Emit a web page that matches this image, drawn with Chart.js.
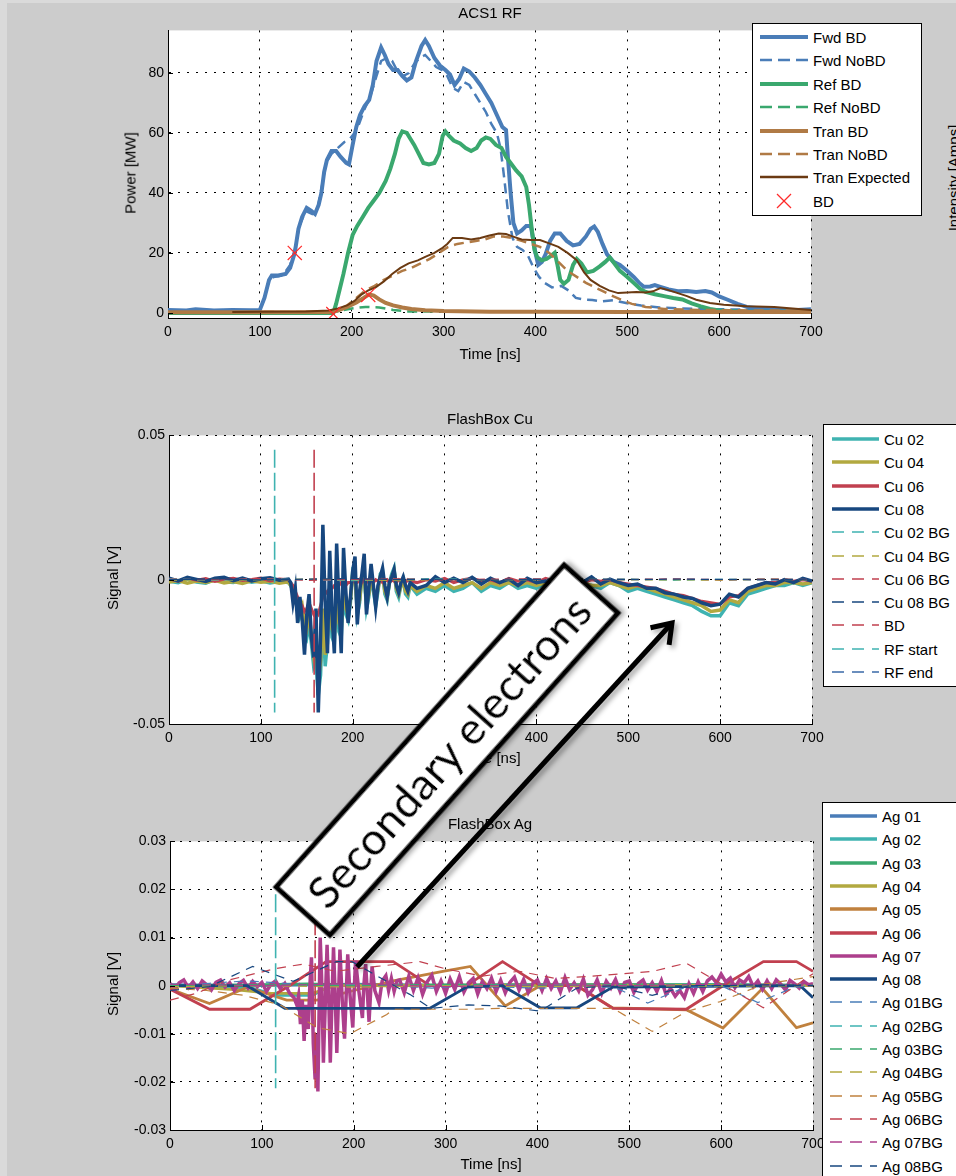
<!DOCTYPE html>
<html>
<head>
<meta charset="utf-8">
<title>ACS1 RF / FlashBox</title>
<script src="https://cdn.jsdelivr.net/npm/chart.js@4.4.1/dist/chart.umd.min.js"></script>
<style>
  html, body { margin: 0; padding: 0; }
  body { width: 956px; height: 1176px; background: #cccccc; position: relative; overflow: hidden;
         font-family: "Liberation Sans", Arial, sans-serif; color: #000; }
  canvas { position: absolute; }
  .edge-l { position: absolute; left: 0; top: 0; width: 7px; height: 1176px; background: #dadada; }
  .edge-t { position: absolute; left: 0; top: 0; width: 956px; height: 3px; background: #dadada; }
  .txt { position: absolute; font-size: 15px; white-space: nowrap; transform: translate(-50%, -50%); }
  .vtxt { position: absolute; font-size: 15px; white-space: nowrap; transform: translate(-50%, -50%) rotate(-90deg); }
  .legend { position: absolute; background: #fff; border: 1px solid #000; box-sizing: border-box; }
  .lg-item { position: absolute; font-size: 15px; white-space: nowrap; transform: translateY(-50%); }
  .lg-line { position: absolute; }
  #anno { position: absolute; left: 0; top: 0; }
</style>
</head>
<body>
<div class="edge-l"></div>
<div class="edge-t"></div>
<canvas id="rf-chart"></canvas>
<canvas id="cu-chart"></canvas>
<canvas id="ag-chart"></canvas>

<div class="txt" style="left:490px; top:12px;">ACS1 RF</div>
<div class="txt" style="left:490px; top:353px;">Time [ns]</div>
<div class="vtxt" style="left:130px; top:173px;">Power [MW]</div>
<div class="vtxt" style="left:953px; top:178px;">Intensity [Amps]</div>

<div class="txt" style="left:490px; top:418px;">FlashBox Cu</div>
<div class="txt" style="left:490px; top:757px;">Time [ns]</div>
<div class="vtxt" style="left:112px; top:578px;">Signal [V]</div>

<div class="txt" style="left:490px; top:823px;">FlashBox Ag</div>
<div class="txt" style="left:491px; top:1163px;">Time [ns]</div>
<div class="vtxt" style="left:112px; top:984px;">Signal [V]</div>

<script>
'use strict';
// ---------- common axis ticks
var timeTicks = [0, 100, 200, 300, 400, 500, 600, 700];
var rfTicks = [0, 20, 40, 60, 80];
var rfTickLabels = ['0', '20', '40', '60', '80'];
var cuTicks = [-0.05, 0, 0.05];
var cuTickLabels = ['-0.05', '0', '0.05'];
var agTicks = [-0.03, -0.02, -0.01, 0, 0.01, 0.02, 0.03];
var agTickLabels = ['-0.03', '-0.02', '-0.01', '0', '0.01', '0.02', '0.03'];

// ---------- ACS1 RF (time ns, power MW)
var rfLabels = ['Fwd BD', 'Fwd NoBD', 'Ref BD', 'Ref NoBD', 'Tran BD', 'Tran NoBD', 'Tran Expected', 'BD'];

var fwdBdT = [0,20,30,50,70,90,100,105,110,113, 120,128,133,138,142,146,151,156,160,164,
  167,170,173,178,183,188,194,197,201,205, 209,214,219,223,227,232,236,240,245,250,
  255,260,265,270,276,280,284,290,296,302, 307,312,317,322,328,334,340,346,352,358,
  364,368,370,373,376,380,385,390,395,400, 403,407,411,416,421,427,434,441,448,455,
  460,464,468,473,478,485,492,500,507,513, 518,525,530,536,545,555,565,575,585,592,
  600,610,620,630,645,660,680,700];
var fwdBdP = [1,0.8,1.2,0.8,1,0.9,1,5,11,12.5, 12.5,13,15,20,28,32,35,34,33,36,
  40,47,51,54,54,52,50,49.5,56,62, 66,69,71,76,84,88.5,86,83,81,81,
  79,77.5,78.5,84,89,91,89,85,82.5,81, 79.5,76,78,81.5,80.5,78.5,76,73,70,66,
  62,61,52,40,30,26.5,27.5,29,29,20, 16,17,19.5,24,26.5,26.5,24,22.5,23,25.5,
  28,28.8,27,23,19.5,17,16,14,12,10, 8.7,8.8,9.3,8.7,7.8,7.2,7.3,7,7.3,6.8,
  5.5,4.3,3,2,1.5,1.1,0.9,1.2];

var fwdNoT = [0,100,105,110,115,125,133,138,143,150, 157,163,168,172,178,185,192,198,203,208,
  214,220,226,232,238,244,250,256,262,268, 274,280,286,292,298,304,310,316,322,328,
  334,340,346,352,358,362,366,370,375,380, 386,392,398,404,410,418,428,436,444,452,
  462,472,485,500,515,535,560,600,650,700];
var fwdNoP = [0.8,0.8,5,11,12,12.5,16,21,29,34, 33,35,43,50,53,55,57,58,60,63,
  68,72,78,84,85,84,80.5,79,80,83, 85,86,84,82,81,79,75,74,77,76,
  73,70,67,63,60,55,45,34,25,22, 21,19,15,12,10,8.5,9,7.5,5,4.5,
  4.3,3.8,4.2,3.2,2.5,1.8,1.5,1.2,1,1];

var refBdT = [0,180,183,187,191,196,201,206,212,218, 224,230,237,242,247,251,255,260,264,268,
  273,278,284,290,295,299,302,306,311,318, 324,330,336,341,346,351,357,363,368,373,
  379,385,390,393,396,399,402,407,412,417, 421,424,427,431,436,441,445,450,456,463,
  470,476,481,486,492,500,507,514,520,530, 540,550,560,570,580,590,600,620,650,700];
var refBdP = [0,0,3,8,13,20,26,29,32,35, 37.5,40,44,48,53,58,60.5,60,58,56,
  53,50,49.5,50,53,59,60.5,59,57.5,56.5, 55,54,55,57.5,58.5,58,56,55,52,50,
  47.5,45.5,42,36,28,21,18.5,17.5,18,19, 20,16,11,9.7,11,16,18,16.5,13.5,14,
  15.5,17,18.5,16.5,14,12,10,8,7,6.2, 5.6,5,4.5,3.2,2.2,1.3,0.8,0.5,0.4,0.4];

var refNoT = [0,60,100,180,200,215,230,245,260,300,400,500,600,700];
var refNoP = [0,-0.3,0,0.2,1.5,2,1.8,1,0.5,0.5,0.4,0.4,0.3,0.3];

var tranBdT = [0,100,175,185,195,205,213,219,224,230,237,245,255,265,280,300,350,400,500,600,700];
var tranBdP = [0.2,0.2,0.3,0.8,2,3.5,5,6.2,5.8,4.5,3.3,2.5,1.8,1.3,0.9,0.6,0.4,0.4,0.3,0.3,0.3];

var tranNoT = [0,175,185,195,205,215,225,235,245,255, 265,275,285,295,305,315,325,335,345,355,
  365,375,385,395,405,415,425,435,445,455, 465,475,485,495,505,520,540,580,640,700];
var tranNoP = [0.2,0.3,1,2.5,5,7.5,9,11,12.5,14, 15,16.5,18,20,22,23,23.5,24,24.5,25.5,
  25.5,25,24,23,22,20,17,14,12,10, 8.5,7,5.5,4.2,3,2,1.3,1,0.8,0.8];

var tranExpT = [70,100,150,175,185,195,203,210,218,226, 235,244,253,262,272,280,290,298,304,310,
  320,330,340,350,360,368,375,385,395,405, 415,425,435,445,453,460,470,480,490,500,
  510,520,528,536,545,555,565,575,590,605, 630,660,700];
var tranExpP = [0.3,0.4,0.5,0.8,1.5,2.5,4,6,7.5,8.5, 10.5,13,15,16.5,17.5,18.7,20,21.5,23,25,
  25,24.5,25,25.8,26.5,26.3,25.5,24.5,24.3,24.3, 23.2,22,20,17.6,13.5,11,9,7.5,6.6,6.8,
  7,6.8,7.2,8.3,7.6,6.6,5.6,4.4,3.3,2.7, 2.2,2,1];

var bdT = [138, 180, 218];
var bdP = [20, -0.4, 6];

// ---------- FlashBox Cu (time ns, signal V)
var cuLabels = ['Cu 02', 'Cu 04', 'Cu 06', 'Cu 08', 'Cu 02 BG', 'Cu 04 BG', 'Cu 06 BG', 'Cu 08 BG', 'BD', 'RF start', 'RF end'];
var cuT = [0,10,20,30,40,50,60,70,80,90,100,110,120,130,
  132.5,135,137.5,140,142.5,145,147.5,150,152.5,155,157.5,160,162.5,165,167.5,170,172.5,175,177.5,180,
  182.5,185,187.5,190,192.5,195,197.5,200,202.5,205,207.5,210,212.5,215,217.5,220,222.5,225,227.5,230,
  232.5,235,237.5,240,242.5,245,247.5,250,252.5,255,257.5,260,262.5,
  270,280,290,300,310,320,330,340,350,360,370,380,390,400,410,420,430,440,450,460,
  470,480,490,500,510,520,530,540,550,560,570,580,590,600,610,620,630,640,650,660,670,680,690,700];
var cu02 = [-0.0005,-0.001,0.0002,-0.0008,-0.0012,0.0001,-0.0007,-0.001,0,-0.0009,-0.0004,-0.0011,-0.0006,-0.001,
  -0.002,-0.004,-0.006,-0.010,-0.013,-0.011,-0.018,-0.020,-0.015,-0.022,-0.030,-0.028,-0.040,-0.033,-0.012,-0.030,-0.022,-0.003,-0.020,-0.022,
  -0.002,-0.018,-0.020,-0.001,-0.012,-0.014,-0.008,0.003,0.002,-0.012,-0.008,0.001,0.002,-0.010,-0.006,0.001,-0.004,-0.009,-0.004,0.002,
  0.003,-0.005,-0.007,-0.001,0.002,0.004,-0.004,-0.006,-0.002,0,-0.005,-0.006,-0.002,
  -0.005,-0.003,-0.004,-0.002,-0.004,-0.003,-0.001,-0.004,-0.002,-0.003,-0.001,-0.003,-0.002,-0.003,-0.001,-0.003,-0.002,-0.003,-0.001,-0.002,
  -0.003,-0.001,-0.002,-0.004,-0.003,-0.004,-0.005,-0.006,-0.007,-0.008,-0.009,-0.011,-0.0125,-0.0125,-0.008,-0.009,-0.005,-0.004,-0.003,-0.002,-0.002,-0.001,-0.002,-0.001];
var cu04 = [-0.0008,-0.0003,-0.0012,-0.0005,-0.001,-0.0002,-0.0011,-0.0006,-0.0013,-0.0004,-0.0009,-0.0005,-0.0012,-0.0007,
  -0.002,-0.003,-0.005,-0.008,-0.011,-0.009,-0.015,-0.017,-0.012,-0.019,-0.026,-0.022,-0.035,-0.028,-0.010,-0.026,-0.019,-0.003,-0.017,-0.019,
  -0.002,-0.015,-0.017,-0.001,-0.010,-0.012,-0.007,0.002,0.001,-0.010,-0.007,0.001,0.001,-0.008,-0.005,0.001,-0.003,-0.007,-0.003,0.001,
  0.002,-0.004,-0.006,-0.001,0.001,0.003,-0.003,-0.005,-0.002,0,-0.004,-0.005,-0.002,
  -0.004,-0.002,-0.003,-0.001,-0.003,-0.002,-0.001,-0.003,-0.001,-0.002,-0.001,-0.002,-0.001,-0.002,-0.001,-0.002,-0.002,-0.002,-0.001,-0.002,
  -0.002,-0.001,-0.002,-0.003,-0.002,-0.003,-0.004,-0.005,-0.006,-0.007,-0.008,-0.009,-0.011,-0.0105,-0.007,-0.008,-0.004,-0.003,-0.002,-0.002,-0.001,-0.001,-0.0015,-0.001];
var cu06 = [0.0003,-0.0005,0.0006,-0.0002,0.0004,-0.0006,0.0002,0.0005,-0.0003,0.0001,0.0006,-0.0004,0.0002,0,
  -0.001,-0.002,-0.004,-0.006,-0.008,-0.009,-0.011,-0.010,-0.008,-0.010,-0.012,-0.011,-0.012,-0.009,-0.006,-0.005,-0.004,-0.003,-0.003,-0.002,
  -0.002,-0.002,-0.001,-0.001,-0.002,-0.001,-0.001,0,-0.001,-0.001,0,-0.001,0,-0.001,0,-0.0005,-0.001,0,-0.0005,0,
  -0.001,-0.0005,0,-0.001,0,-0.0005,-0.001,0,-0.0005,0,-0.001,0,-0.0005,
  -0.001,0,-0.0005,0.0005,-0.001,0,0.0005,-0.0005,0,-0.001,0.0005,-0.0005,0,-0.001,0.0005,-0.0005,0,0.0005,-0.001,0,
  -0.0005,0,-0.001,-0.0015,-0.002,-0.0025,-0.003,-0.004,-0.005,-0.0055,-0.0065,-0.0075,-0.008,-0.0085,-0.006,-0.0055,-0.003,-0.002,-0.001,-0.001,0,-0.0005,0,-0.0005];
var cu08 = [0.0005,-0.0004,0.0008,0.0001,-0.0006,0.0005,0.0008,-0.0003,0.0006,-0.0004,0.0003,0.0007,-0.0002,0.0002,
  -0.001,-0.008,-0.003,-0.015,-0.006,-0.014,-0.026,-0.012,-0.005,-0.020,-0.027,-0.010,-0.046,-0.020,0.019,-0.008,-0.0255,0.010,-0.012,-0.0255,
  0.0125,-0.008,-0.0255,0.011,-0.004,-0.015,-0.006,0.003,0.008,-0.0155,-0.004,0.002,0.009,-0.012,-0.003,0.0055,-0.002,-0.0095,-0.002,0.001,
  0.004,-0.002,-0.006,-0.001,0.001,0.0035,-0.002,-0.0045,-0.001,0.001,-0.002,-0.004,-0.001,
  -0.003,-0.002,0.001,-0.001,0.0005,-0.001,0.0008,-0.0015,0.0005,-0.001,0.0002,-0.002,0.0005,-0.001,-0.0005,-0.002,0.0002,0.001,-0.001,0.001,
  -0.0015,0.0002,-0.001,-0.002,-0.0015,-0.003,-0.003,-0.0045,-0.005,-0.006,-0.0065,-0.008,-0.009,-0.0085,-0.005,-0.006,-0.003,-0.002,-0.001,-0.0015,0,-0.001,0.0005,-0.0005];

var cuBgT = [0,50,100,150,200,250,300,350,400,450,500,550,600,650,700];
var cu02bg = [0.0004,-0.0002,0.0003,0,-0.0003,0.0002,0.0004,-0.0001,0.0002,0,0.0003,-0.0002,0.0001,0.0003,0];
var cu04bg = [-0.0003,0.0001,-0.0002,0.0002,0,-0.0003,0.0001,-0.0002,0,0.0002,-0.0001,0,-0.0002,0.0001,0];
var cu06bg = [0.0002,0,0.0004,-0.0002,0.0001,0.0003,-0.0001,0.0002,0.0003,0,0.0001,0.0003,0,0.0002,0.0001];
var cu08bg = [0,0.0003,-0.0001,0.0002,0.0004,0,0.0002,-0.0002,0.0001,0.0003,0,0.0002,0.0001,-0.0001,0.0002];

var bdLineT = [158, 158];
var rfStartT = [115, 115];
var cuMarkV = [0.045, -0.046];

// ---------- FlashBox Ag (time ns, signal V)
var agLabels = ['Ag 01', 'Ag 02', 'Ag 03', 'Ag 04', 'Ag 05', 'Ag 06', 'Ag 07', 'Ag 08',
  'Ag 01BG', 'Ag 02BG', 'Ag 03BG', 'Ag 04BG', 'Ag 05BG', 'Ag 06BG', 'Ag 07BG', 'Ag 08BG'];
var ag01T = [0,100,200,300,400,500,600,700];
var ag01V = [0.0002,0,0.0003,0,0.0002,0,0.0002,0];
var ag02T = [0,90,115,155,175,300,500,700];
var ag02V = [0,-0.0005,-0.002,-0.002,0,0,0.0002,0];
var ag03T = [0,100,150,200,400,600,700];
var ag03V = [0,0.0002,0.0004,0.0001,0.0002,0.0002,0.0001];
var ag04T = [0,70,110,155,180,400,700];
var ag04V = [0,-0.0008,-0.0016,-0.0016,0,0.0001,0];
var ag05T = [0,43,84,127,160,200,243,297,327,365,403,443,482,562,602,645,682,700];
var ag05V = [-0.0007,-0.0037,-0.0003,-0.003,-0.003,-0.001,0.001,0.003,0.004,-0.0042,0,0,-0.0046,-0.005,-0.0088,-0.0006,-0.0087,-0.0077];
var ag06T = [0,43,87,130,170,243,283,323,362,403,443,482,562,602,646,682,700];
var ag06V = [-0.0007,-0.0049,-0.0049,0,0.005,0.005,0,0,0.005,0,0,-0.0047,-0.0049,0,0.005,0.005,0.003];
var ag07T = [0,5,10,15,20,25,30,35,40,45,50,55,60,65,70,75,80,85,90,95,100,105,110,115,120,125,130,135,
  138,140,142,144,146,148,150.5,152,154,156,158,159.5,161,163.5,165,167,169,171,173,174.5,176.5,178,
  180,181.6,183.5,185,187.5,190,192,193.5,196,199,200.5,202,205.5,209.5,211,213,215,216.7,218.5,220,
  223,227.5,231,235,238,241,244,247,
  250,255,260,265,270,275,280,285,290,295,300,305,310,315,320,325,330,335,340,345,
  350,355,360,365,370,375,380,385,390,395,400,405,410,415,420,425,430,435,440,445,
  450,455,460,465,470,475,480,485,490,495,500,505,510,515,520,525,530,535,540,545,
  550,555,560,565,570,575,580,585,590,595,600,605,610,615,620,625,630,635,640,645,
  650,655,660,665,670,675,680,685,690,695,700];
var ag07V = [0.0005,-0.0008,0.0006,0.0012,-0.0004,0.0008,-0.0006,0.0010,0.0002,-0.0009,0.0007,0.0012,-0.0003,0.0006,
  -0.0010,0.0004,0.0011,-0.0005,0.0009,-0.0002,0.0007,-0.0012,0.0003,0.0010,-0.0006,0.0005,-0.0015,-0.0025,
  -0.0040,-0.0020,-0.0080,-0.0030,-0.0115,-0.0040,-0.0090,-0.0010,0.0059,-0.0120,-0.0195,-0.0100,-0.0220,0.0100,0.0020,-0.0160,-0.0040,0.0085,-0.0040,-0.0160,-0.0020,0.0080,
  -0.0030,-0.0140,-0.0020,0.0075,-0.0030,-0.0110,-0.0010,0.0065,-0.0020,-0.0087,-0.0010,0.0052,-0.0010,-0.0067,0.0000,0.0045,-0.0020,-0.0075,-0.0010,0.0040,
  -0.0010,-0.0035,0.0010,0.0021,-0.0010,0.0015,-0.0012,0.0010,
  0.0012,-0.0015,0.0020,-0.0010,0.0016,-0.0018,0.0008,0.0022,-0.0012,0.0010,
  -0.0016,0.0014,-0.0008,0.0019,-0.0013,0.0006,0.0015,-0.0017,0.0009,-0.0006,
  0.0016,-0.0012,0.0011,-0.0015,0.0007,0.0018,-0.0009,0.0013,-0.0014,0.0005,
  0.0012,-0.0010,0.0015,-0.0006,0.0010,-0.0013,0.0017,-0.0008,0.0006,-0.0011,
  0.0014,-0.0020,-0.0008,0.0012,-0.0016,0.0009,-0.0005,0.0013,-0.0012,0.0007,
  0.0010,-0.0014,0.0005,0.0012,-0.0009,0.0006,-0.0012,0.0011,-0.0018,-0.0006,
  -0.0022,-0.0010,-0.0025,0.0004,-0.0016,0.0008,-0.0012,0.0010,0.0018,0.0006,
  0.0024,0.0008,0.0016,-0.0004,0.0012,0.0006,0.0019,-0.0002,0.0010,-0.0008,
  0.0010,-0.0006,0.0012,0.0003,-0.0009,0.0011,0.0004,-0.0005,0.0009,0.0002,0.0004];
var ag08T = [0,84,125,283,323,362,403,443,482,686,700];
var ag08V = [0,0,-0.0047,-0.0047,-0.0003,0,-0.0046,-0.0046,-0.0003,0,-0.0025];

var ag01bgT = [0,43,84,124,165,205,245,285,325,365,405,445,485,520,560,600,640,680,700];
var ag01bgV = [0,0.0005,0.001,0.0005,0,0.0003,0,-0.0005,0,-0.0003,-0.0005,0,-0.0004,-0.0036,-0.0004,0,-0.0035,-0.0003,0];
var agFlatT = [0,100,200,300,400,500,600,700];
var ag02bgV = [0.0003,0,0.0002,0,0.0003,0,0.0002,0];
var ag03bgV = [0,0.0002,0,0.0003,0,0.0002,0,0.0001];
var ag04bgV = [-0.0002,0,-0.0003,0,-0.0002,0,-0.0001,0];
var ag05bgT = [0,40,80,120,160,196,236,243,327,359,482,525,562,599,646,700];
var ag05bgV = [-0.0005,-0.001,-0.002,-0.004,-0.0087,-0.01,-0.006,-0.0049,-0.0049,-0.0047,-0.0047,-0.0095,-0.0054,-0.0033,0.0003,0.0019];
var ag06bgT = [0,30,60,116,145,180,225,272,300,340,380,420,460,526,562,590,646,700];
var ag06bgV = [-0.003,-0.0015,0.001,0.0036,0.0045,0.003,0.004,0.005,0.0035,0.002,0.003,0.0015,0.002,0.003,0.0047,0.0015,-0.0046,0.0025];
var ag07bgV = [0.0003,0,0.0004,-0.0002,0.0002,0,0.0003,0];
var ag08bgT = [0,43,90,134,181,198,261,284,325,359,403,443,482,525,565,605,645,685,700];
var ag08bgV = [-0.001,-0.0002,0.004,0.0009,0.005,0.005,-0.0018,-0.0047,-0.004,-0.0042,-0.0053,-0.0005,0,-0.002,0,0,0.0002,0,0];
var agMarkV = [0.019, -0.0213];

// ---------- colours
var cBlue = '#4a7db8', cGreen = '#3aa86e', cTan = '#b07a45', cBrown = '#6b3a12', cRed = '#ff2a2a';
var cTeal = '#3fb3b1', cOlive = '#b2a940', cCrimson = '#c1404f', cNavy = '#17477f';
var cOrange = '#c0813e', cMagenta = '#ad3f8c';

function pts(xs, ys) {
  var out = [];
  for (var i = 0; i < xs.length; i++) out.push({ x: xs[i], y: ys[i] });
  return out;
}

function line(label, xs, ys, color, width, dash) {
  return { label: label, data: pts(xs, ys), borderColor: color, backgroundColor: color,
    borderWidth: width, borderDash: dash || [], pointRadius: 0, tension: 0, fill: false };
}

// white plot area
var whiteArea = {
  id: 'whiteArea',
  beforeDraw: function (chart) {
    var a = chart.chartArea, ctx = chart.ctx;
    ctx.save();
    ctx.fillStyle = '#fff';
    ctx.fillRect(a.left, a.top, a.right - a.left, a.bottom - a.top);
    ctx.restore();
  }
};

// matlab style ticks pointing into the plot
var innerTicks = {
  id: 'innerTicks',
  afterDatasetsDraw: function (chart) {
    var ctx = chart.ctx, a = chart.chartArea;
    var xs = chart.scales.x, ys = chart.scales.y;
    ctx.save();
    ctx.strokeStyle = '#000';
    ctx.lineWidth = 1;
    ctx.beginPath();
    xs.ticks.forEach(function (t) {
      var px = Math.round(xs.getPixelForValue(t.value)) + 0.5;
      ctx.moveTo(px, a.bottom); ctx.lineTo(px, a.bottom - 5);
    });
    ys.ticks.forEach(function (t) {
      var py = Math.round(ys.getPixelForValue(t.value)) + 0.5;
      ctx.moveTo(a.left, py); ctx.lineTo(a.left + 5, py);
    });
    ctx.stroke();
    ctx.restore();
  }
};

function makeChart(id, area, datasets, yMin, yMax, yTicks, yLabels) {
  var cv = document.getElementById(id);
  var padL = 70, padR = 30, padT = 10, padB = 40;
  cv.width = area.r - area.l + padL + padR;
  cv.height = area.b - area.t + padT + padB;
  cv.style.left = (area.l - padL) + 'px';
  cv.style.top = (area.t - padT) + 'px';
  // later series drawn on top, like the original plot
  datasets.forEach(function (d, i) { d.order = -i; });
  var tickFont = { family: '"Liberation Sans", Arial, sans-serif', size: 14 };
  return new Chart(cv, {
    type: 'line',
    data: { datasets: datasets },
    options: {
      responsive: false, animation: false, devicePixelRatio: 1,
      layout: { padding: { left: 0, right: padR, top: padT, bottom: 0 } },
      plugins: { legend: { display: false }, tooltip: { enabled: false }, title: { display: false } },
      scales: {
        x: {
          type: 'linear', min: 0, max: 700,
          afterFit: function (s) { s.height = padB; },
          afterBuildTicks: function (s) { s.ticks = timeTicks.map(function (v) { return { value: v }; }); },
          ticks: { padding: 6, color: '#000', font: tickFont, maxRotation: 0,
                   callback: function (v) { return String(v); } },
          grid: { color: '#000', lineWidth: 1, drawTicks: false },
          border: { color: '#000', width: 1, dash: [2, 7] }
        },
        y: {
          type: 'linear', min: yMin, max: yMax,
          afterFit: function (s) { s.width = padL; },
          afterBuildTicks: function (s) { s.ticks = yTicks.map(function (v) { return { value: v }; }); },
          ticks: { padding: 4, color: '#000', font: tickFont,
                   callback: function (v, i) { return yLabels[i]; } },
          grid: { color: '#000', lineWidth: 1, drawTicks: false },
          border: { color: '#000', width: 1, dash: [2, 7] }
        }
      }
    },
    plugins: [whiteArea, innerTicks]
  });
}

// ---------- chart 1
var bdMarks = { label: 'BD', data: pts(bdT, bdP), showLine: false, borderColor: cRed, backgroundColor: cRed,
  pointStyle: 'crossRot', pointRadius: 10, borderWidth: 1.2 };
makeChart('rf-chart', { l: 168, r: 811, t: 28, b: 318 }, [
  line(rfLabels[0], fwdBdT, fwdBdP, cBlue, 4),
  line(rfLabels[1], fwdNoT, fwdNoP, cBlue, 2.5, [10, 6]),
  line(rfLabels[2], refBdT, refBdP, cGreen, 4),
  line(rfLabels[3], refNoT, refNoP, cGreen, 2.5, [10, 6]),
  line(rfLabels[4], tranBdT, tranBdP, cTan, 4),
  line(rfLabels[5], tranNoT, tranNoP, cTan, 2.5, [10, 6]),
  line(rfLabels[6], tranExpT, tranExpP, cBrown, 2),
  bdMarks
], -1.7, 94.2, rfTicks, rfTickLabels);

// ---------- chart 2
makeChart('cu-chart', { l: 169, r: 812, t: 433, b: 724 }, [
  line(cuLabels[0], cuT, cu02, cTeal, 3.5),
  line(cuLabels[1], cuT, cu04, cOlive, 3.5),
  line(cuLabels[2], cuT, cu06, cCrimson, 3),
  line(cuLabels[3], cuT, cu08, cNavy, 3.5),
  line(cuLabels[4], cuBgT, cu02bg, cTeal, 1.3, [8, 6]),
  line(cuLabels[5], cuBgT, cu04bg, cOlive, 1.3, [8, 6]),
  line(cuLabels[6], cuBgT, cu06bg, cCrimson, 1.3, [8, 6]),
  line(cuLabels[7], cuBgT, cu08bg, cNavy, 1.3, [8, 6]),
  line(cuLabels[8], bdLineT, cuMarkV, cCrimson, 1.6, [18, 5]),
  line(cuLabels[9], rfStartT, cuMarkV, cTeal, 1.6, [18, 5])
], -0.05, 0.05, cuTicks, cuTickLabels);

// ---------- chart 3
var agSolid = [[ag01T, ag01V, cBlue], [ag02T, ag02V, cTeal], [ag03T, ag03V, cGreen], [ag04T, ag04V, cOlive],
  [ag05T, ag05V, cOrange], [ag06T, ag06V, cCrimson], [ag07T, ag07V, cMagenta], [ag08T, ag08V, cNavy]];
var agBg = [[ag01bgT, ag01bgV, cBlue], [agFlatT, ag02bgV, cTeal], [agFlatT, ag03bgV, cGreen], [agFlatT, ag04bgV, cOlive],
  [ag05bgT, ag05bgV, cOrange], [ag06bgT, ag06bgV, cCrimson], [agFlatT, ag07bgV, cMagenta], [ag08bgT, ag08bgV, cNavy]];
var agSets = [];
agSolid.forEach(function (s, i) { agSets.push(line(agLabels[i], s[0], s[1], s[2], i === 6 ? 3.5 : 2.8)); });
agBg.forEach(function (s, i) { agSets.push(line(agLabels[8 + i], s[0], s[1], s[2], 1.2, [9, 7])); });
agSets.push(line('RF start', rfStartT, agMarkV, cTeal, 1.6, [18, 5]));
agSets.push(line('BD', bdLineT, agMarkV, cCrimson, 1.6, [18, 5]));
makeChart('ag-chart', { l: 170, r: 813, t: 839, b: 1130 }, agSets, -0.03, 0.03, agTicks, agTickLabels);

// ---------- legends (html)
function addLegend(box, first, step, x0, x1, textX, items) {
  var div = document.createElement('div');
  div.className = 'legend';
  div.style.left = box.l + 'px'; div.style.top = box.t + 'px';
  div.style.width = box.w + 'px'; div.style.height = box.h + 'px';
  document.body.appendChild(div);
  items.forEach(function (it, k) {
    var y = first + k * step;
    var w = x1 - x0;
    var svg = document.createElementNS('http://www.w3.org/2000/svg', 'svg');
    svg.setAttribute('width', w); svg.setAttribute('height', 16);
    svg.setAttribute('class', 'lg-line');
    svg.style.left = x0 + 'px'; svg.style.top = (y - 8) + 'px';
    if (it.marker) {
      svg.innerHTML = '<line x1="' + (w / 2 - 7) + '" y1="1" x2="' + (w / 2 + 7) + '" y2="15" stroke="' + it.color + '" stroke-width="1.2"/>' +
        '<line x1="' + (w / 2 + 7) + '" y1="1" x2="' + (w / 2 - 7) + '" y2="15" stroke="' + it.color + '" stroke-width="1.2"/>';
    } else {
      svg.innerHTML = '<line x1="0" y1="8" x2="' + w + '" y2="8" stroke="' + it.color + '" stroke-width="' + it.width + '"' +
        (it.dash ? ' stroke-dasharray="' + it.dash + '"' : '') + '/>';
    }
    document.body.appendChild(svg);
    var t = document.createElement('div');
    t.className = 'lg-item';
    t.style.left = textX + 'px'; t.style.top = y + 'px';
    t.textContent = it.label;
    document.body.appendChild(t);
  });
}

var rfStyles = [[cBlue, 4, ''], [cBlue, 2.5, '12 6'], [cGreen, 4, ''], [cGreen, 2.5, '12 6'],
  [cTan, 4, ''], [cTan, 2.5, '12 6'], [cBrown, 2.5, '']];
var rfItems = rfStyles.map(function (s, i) { return { label: rfLabels[i], color: s[0], width: s[1], dash: s[2] }; });
rfItems.push({ label: rfLabels[7], color: cRed, marker: true });
addLegend({ l: 752, t: 23, w: 170, h: 193 }, 37, 23.4, 760, 808, 813, rfItems);

var cuColors = [cTeal, cOlive, cCrimson, cNavy, cTeal, cOlive, cCrimson, cNavy, cCrimson, cTeal, '#3a6aa8'];
var cuItems = cuColors.map(function (c, i) {
  return { label: cuLabels[i], color: c, width: i < 4 ? 3.5 : 1.5, dash: i < 4 ? '' : '12 8' };
});
addLegend({ l: 823, t: 424, w: 160, h: 263 }, 439, 23.3, 832, 879, 884, cuItems);

var agColors = [cBlue, cTeal, cGreen, cOlive, cOrange, cCrimson, cMagenta, cNavy];
var agItems = agLabels.map(function (lab, i) {
  return { label: lab, color: agColors[i % 8], width: i < 8 ? 3.5 : 1.5, dash: i < 8 ? '' : '12 8' };
});
addLegend({ l: 822, t: 802, w: 160, h: 420 }, 816, 23.3, 830, 877, 882, agItems);
</script>

<svg id="anno" width="956" height="1176">
  <defs>
    <filter id="sh" x="-20%" y="-20%" width="140%" height="140%">
      <feDropShadow dx="3" dy="3" stdDeviation="2.5" flood-color="#000" flood-opacity="0.35"/>
    </filter>
  </defs>
  <g filter="url(#sh)">
    <line x1="357" y1="967" x2="672" y2="623" stroke="#000" stroke-width="5"/>
    <polyline points="650.5,627.8 672,623 669.1,644.8" fill="none" stroke="#000" stroke-width="5" stroke-linejoin="miter"/>
  </g>
  <g transform="translate(447,750) rotate(-48.2)" filter="url(#sh)">
    <rect x="-216" y="-36" width="432" height="72" fill="#fff" stroke="#000" stroke-width="5"/>
    <text x="0" y="2" text-anchor="middle" dominant-baseline="central" font-family="Lato, 'Open Sans', sans-serif"
          font-size="45" textLength="400" lengthAdjust="spacingAndGlyphs">Secondary electrons</text>
  </g>
</svg>
</body>
</html>
